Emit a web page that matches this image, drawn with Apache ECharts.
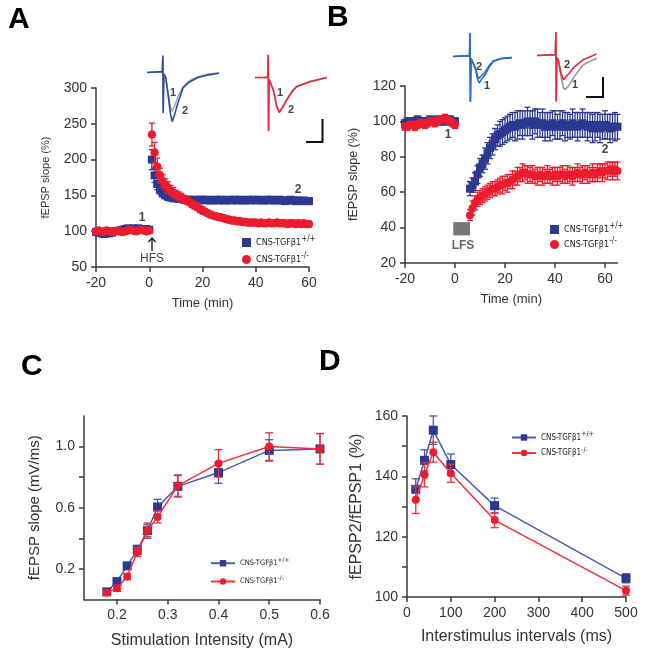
<!DOCTYPE html>
<html lang="en">
<head>
<meta charset="UTF-8">
<title>CNS-TGFb1 synaptic plasticity</title>
<script src="https://cdn.jsdelivr.net/npm/echarts@6.0.0/dist/echarts.min.js"></script>
<style>
  html, body { margin: 0; padding: 0; background: #fff; }
  #main { width: 649px; height: 660px; }
</style>
</head>
<body>
<div id="main"></div>
<script>
// ---------- data ----------
// A: HFS-LTP, time (min) vs fEPSP slope (%)
var tA = [-20,-19,-18,-17,-16,-15,-14,-13,-12,-11,-10,-9,-8,-7,-6,-5,-4,-3,-2,-1,0,
  1,2,3,4,5,6,7,8,9,10, 11,12,13,14,15,16,17,18,19,20, 21,22,23,24,25,26,27,28,29,30,
  31,32,33,34,35,36,37,38,39,40, 41,42,43,44,45,46,47,48,49,50, 51,52,53,54,55,56,57,58,59,60];
var wtA = [99,98,97,96,97,97,98,100,100,101,102,103,104,103,104,103,104,103,102,103,102,
  200,178,166,158,153,150,148,147,146,146, 145,145,144,144,144,143,144,143,144,144,
  143,144,143,143,144,143,144,143,143,144, 143,144,143,144,143,143,144,143,144,143,
  144,143,143,144,143,144,143,143,144,143, 142,143,144,143,142,143,142,143,142,142];
var koA = [100,101,99,100,101,100,99,100,101,100,99,100,101,102,101,100,101,102,101,100,101,
  235,210,190,178,170,165,161,157,154,151, 149,147,145,143,141,138,136,134,131,129,
  127,125,123,122,121,120,119,118,117,116, 115,115,114,114,113,113,112,112,112,112,
  111,112,111,111,112,111,111,112,111,111, 111,110,111,111,110,111,110,111,110,110];
var wtAerr = [2,2,2,2,2,2,2,2,2,2,2,2,2,2,2,2,2,2,2,2,2,
  14,10,8,6,5,4,4,4,3,3, 3,3,3,3,3,3,3,3,3,3, 3,3,3,3,3,3,3,3,3,3,
  3,3,3,3,3,3,3,3,3,3, 3,3,3,3,3,3,3,3,3,3, 3,3,3,3,3,3,3,3,3,3];
var koAerr = [2,2,2,2,2,2,2,2,2,2,2,2,2,2,2,2,2,2,2,2,2,
  16,14,12,10,9,8,8,7,7,6, 6,6,5,5,5,5,5,5,5,5, 4,4,4,4,4,4,4,4,4,4,
  4,4,4,4,4,4,4,4,4,4, 4,4,4,4,4,4,4,4,4,4, 4,4,4,4,4,4,4,4,4,4];

// B: LFS-LTD
var tB = [-20,-19,-18,-17,-16,-15,-14,-13,-12,-11,-10,-9,-8,-7,-6,-5,-4,-3,-2,-1,0,
  6,7,8,9,10,11,12,13,14,15, 16,17,18,19,20,21,22,23,24,25, 26,27,28,29,30,31,32,33,34,35,
  36,37,38,39,40,41,42,43,44,45, 46,47,48,49,50,51,52,53,54,55, 56,57,58,59,60,61,62,63,64,65];
var wtB = [99,100,100,99,100,101,100,99,100,100,101,100,100,101,100,101,100,101,101,100,100,
  62,64,66,70,74,76,79,82,85,87, 90,92,93,94,95,96,97,98,97,98, 99,98,99,100,99,98,100,99,98,99,
  97,98,97,99,98,97,98,99,97,98, 97,99,98,97,98,99,98,97,98,96, 97,98,96,97,98,97,96,97,97,97];
var koB = [97,97,98,98,97,98,99,99,98,99,100,100,99,100,101,101,102,101,100,99,98,
  47,51,54,56,57,58,59,60,61,62, 62,63,64,64,65,65,66,67,68,69, 70,71,71,70,70,70,69,69,70,69,
  69,70,69,69,70,69,70,70,69,70, 70,69,70,71,70,70,71,70,70,71, 70,71,72,71,72,72,73,72,73,72];
var wtBerr = [2,2,2,2,2,2,2,2,2,2,2,2,2,2,2,2,2,2,2,2,2,
  4,4,5,5,5,5,6,6,6,6, 6,6,7,7,7,7,7,7,8,8, 7,8,7,8,7,8,7,8,7,8,
  8,7,8,7,8,7,8,7,8,7, 7,8,7,8,7,8,7,8,7,8, 8,7,8,7,8,7,8,7,8,7];
var koBerr = [2,2,2,2,2,2,2,2,2,2,2,2,2,2,2,2,2,2,2,2,2,
  3,4,4,4,4,4,4,4,4,4, 4,4,4,5,4,5,4,5,4,5, 4,5,4,5,4,5,4,5,4,5,
  4,5,4,5,4,5,4,5,4,5, 4,5,4,5,4,5,4,5,4,5, 4,5,4,5,4,5,4,5,4,5];
var lfsBox = [[-0.7, 35.6], [6, 43.1]];

// C: input-output
var xC = [0.18,0.2,0.22,0.24,0.26,0.28,0.32,0.4,0.5,0.6];
var wtC = [0.05,0.117,0.22,0.325,0.45,0.605,0.74,0.83,0.975,0.985];
var koC = [0.045,0.073,0.15,0.31,0.45,0.54,0.745,0.89,1.0,0.985];
var wtCerr = [0.015,0.02,0.02,0.03,0.04,0.05,0.07,0.07,0.07,0.1];
var koCerr = [0.015,0.02,0.02,0.03,0.05,0.04,0.07,0.09,0.09,0.1];

// D: paired-pulse facilitation
var xD = [20,40,60,100,200,500];
var wtD = [135.7,145.3,155.3,143.9,130.3,106.2];
var koD = [132.2,140.5,148,141,125.5,102.1];
var wtDerr = [3.5,3.5,4.7,3.5,2.5,1.5];
var koDerr = [4.5,4.0,3.3,3.0,2.5,1.5];

// example traces (ms, mV)
var trAx_wt = [0,5.1,5.3,5.4,5.6,6.2,7.0,7.8,8.4,9.2,10.3,12,14,17,20,24];
var trAy_wt2 = [0,0.02,0.43,-1.04,-0.04,-0.12,-0.55,-1.05,-1.26,-1.08,-0.78,-0.4,-0.25,-0.13,-0.07,-0.02];
var trAy_wt1 = [0,0.02,0.43,-1.0,-0.04,-0.12,-0.5,-0.88,-1.0,-0.86,-0.62,-0.36,-0.22,-0.11,-0.05,-0.01];
var trAx_ko = [0,4.2,4.4,4.5,4.7,5.3,6.2,7.2,8.1,9,10.6,12.5,13.9,18.3,24];
var trAy_ko2 = [0,0,0.58,-1.375,-0.05,-0.1,-0.35,-0.75,-0.9,-0.8,-0.58,-0.35,-0.24,-0.11,0.0];
var trAy_ko1 = [0,0,0.58,-1.375,-0.05,-0.1,-0.33,-0.7,-0.86,-0.77,-0.55,-0.33,-0.22,-0.1,0.0];
var trBx_wt = [0,5.5,5.67,5.8,6.0,6.6,7.4,8.2,8.7,9.4,10.7,12,13.4,16,19.6];
var trBy_wt1 = [0,0.02,0.6,-1.16,-0.05,-0.1,-0.3,-0.58,-0.68,-0.6,-0.47,-0.28,-0.13,-0.06,-0.03];
var trBy_wt2 = [0,0.02,0.6,-1.16,-0.05,-0.1,-0.28,-0.5,-0.56,-0.5,-0.4,-0.24,-0.12,-0.05,-0.03];
var trBx_ko = [0,6.1,6.3,6.4,6.6,7.2,8.0,8.8,9.3,10.8,12.1,15.4,19.9];
var trBy_ko2 = [0,0.02,0.6,-1.18,-0.05,-0.15,-0.45,-0.62,-0.58,-0.45,-0.32,-0.11,0.04];
var trBy_ko1 = [0,0.02,0.6,-1.18,-0.05,-0.15,-0.55,-0.82,-0.88,-0.75,-0.58,-0.24,-0.07];

// ---------- helpers ----------
var FONT = "'Liberation Sans', Arial, Helvetica, sans-serif";
var NARROW = "'Liberation Sans Narrow', 'DejaVu Sans Condensed', 'Liberation Sans', sans-serif";
var BLUE = '#2b3990', RED = '#ec1c2e', BLUE_LINE = '#4a5aae', RED_LINE = '#f0303c';

function pts(xs, ys) {
  return xs.map(function (x, i) { return [x, ys[i]]; });
}

function errSeries(gi, xs, ys, es, color, cap, z) {
  return {
    type: 'custom', xAxisIndex: gi, yAxisIndex: gi, z: z, silent: true, clip: false,
    encode: { x: 0, y: [1, 2] },
    data: xs.map(function (x, i) { return [x, ys[i] - es[i], ys[i] + es[i]]; }),
    renderItem: function (params, api) {
      var lo = api.coord([api.value(0), api.value(1)]);
      var hi = api.coord([api.value(0), api.value(2)]);
      var st = { stroke: color, lineWidth: 1.3 };
      return { type: 'group', children: [
        { type: 'line', shape: { x1: lo[0], y1: lo[1], x2: hi[0], y2: hi[1] }, style: st },
        { type: 'line', shape: { x1: lo[0] - cap, y1: lo[1], x2: lo[0] + cap, y2: lo[1] }, style: st },
        { type: 'line', shape: { x1: hi[0] - cap, y1: hi[1], x2: hi[0] + cap, y2: hi[1] }, style: st }
      ] };
    }
  };
}

function axis(gi, min, max, name, nameSize, nameGap, labelSize, ticks, labels, fmt) {
  var a = {
    type: 'value', gridIndex: gi, min: min, max: max,
    name: name, nameLocation: 'middle', nameGap: nameGap,
    nameTextStyle: { fontFamily: FONT, fontSize: nameSize, color: '#333' },
    axisLine: { show: true, onZero: false, lineStyle: { color: '#3a3a3a', width: 1.5 } },
    axisTick: { show: true, length: 5, customValues: ticks, lineStyle: { color: '#3a3a3a', width: 1.5 } },
    axisLabel: { fontFamily: FONT, fontSize: labelSize, color: '#333', margin: 9, customValues: labels || ticks },
    splitLine: { show: false }
  };
  if (fmt) a.axisLabel.formatter = fmt;
  return a;
}

function hidden(gi, min, max) {
  return { type: 'value', gridIndex: gi, min: min, max: max, show: false };
}

function trace(gi, xs, ys, color) {
  return { type: 'line', xAxisIndex: gi, yAxisIndex: gi, data: pts(xs, ys), symbol: 'none',
    silent: true, clip: false, lineStyle: { color: color, width: 1.6 }, z: 2 };
}

var legendText = { wt: '{t|CNS-TGFβ1}{s|+/+}', ko: '{t|CNS-TGFβ1}{s|-/-}' };
function legend(names, left, top, iw, ih, gap, fs) {
  return {
    data: names, orient: 'vertical', left: left, top: top, itemWidth: iw, itemHeight: ih, itemGap: gap,
    selectedMode: false, padding: 0,
    formatter: function (n) { return legendText[n.slice(0, 2)]; },
    textStyle: { color: '#222', rich: {
      t: { fontFamily: NARROW, fontSize: fs, color: '#222' },
      s: { fontFamily: NARROW, fontSize: fs - 1, color: '#222', padding: [0, 0, fs - 2, 0] }
    } }
  };
}

function txt(x, y, s, font, color) {
  return { type: 'text', x: x, y: y, silent: true,
    style: { text: s, font: font, fill: color || '#444', align: 'center', verticalAlign: 'middle' } };
}

function pline(points, w) {
  return { type: 'polyline', silent: true, shape: { points: points },
    style: { stroke: '#111', lineWidth: w || 2, fill: null } };
}

// ---------- chart ----------
var chart = echarts.init(document.getElementById('main'));

var option = {
  animation: false,
  backgroundColor: '#fff',
  grid: [
    { left: 96, top: 88, width: 213, height: 179 },
    { left: 405, top: 86, width: 212.5, height: 177 },
    { left: 84, top: 416, width: 236, height: 183.5 },
    { left: 407, top: 416, width: 219, height: 181 },
    { left: 147, top: 49, width: 72, height: 82 },
    { left: 255, top: 54, width: 72, height: 82 },
    { left: 453, top: 33, width: 72, height: 82 },
    { left: 537, top: 32, width: 72, height: 82 }
  ],
  xAxis: [
    axis(0, -20, 60, 'Time (min)', 13, 30, 14, [-20, 0, 20, 40, 60]),
    axis(1, -20, 65, 'Time (min)', 13, 30, 14, [-20, 0, 20, 40, 60]),
    axis(2, 0.135, 0.6, 'Stimulation Intensity (mA)', 16, 33, 14, [0.2, 0.3, 0.4, 0.5, 0.6], null,
      function (v) { return v.toFixed(1); }),
    axis(3, 0, 500, 'Interstimulus intervals (ms)', 16, 32, 14, [0, 100, 200, 300, 400, 500]),
    hidden(4, 0, 24), hidden(5, 0, 24), hidden(6, 0, 24), hidden(7, 0, 24)
  ],
  yAxis: [
    axis(0, 50, 300, 'fEPSP slope (%)', 11, 45, 14, [50, 100, 150, 200, 250, 300]),
    axis(1, 20, 120, 'fEPSP slope (%)', 12.5, 45, 14, [20, 40, 60, 80, 100, 120]),
    axis(2, 0, 1.2, 'fEPSP slope (mV/ms)', 15, 42, 14, [0.2, 0.4, 0.6, 0.8, 1.0], [0.2, 0.6, 1.0],
      function (v) { return v.toFixed(1); }),
    axis(3, 100, 160, 'fEPSP2/fEPSP1 (%)', 16, 42, 14, [100, 110, 120, 130, 140, 150, 160], [100, 120, 140, 160]),
    hidden(4, -1.5, 0.6), hidden(5, -1.5, 0.6), hidden(6, -1.5, 0.6), hidden(7, -1.5, 0.6)
  ],
  legend: [
    legend(['wtA', 'koA'], 242, 235, 9, 9, 5, 9),
    legend(['wtB', 'koB'], 550, 222, 9, 9, 3, 9),
    legend(['wtC', 'koC'], 210, 557, 24, 8, 8, 7.5),
    legend(['wtD', 'koD'], 511, 431, 24, 8, 5, 8)
  ],
  series: [
    // A
    errSeries(0, tA, wtA, wtAerr, BLUE, 3, 2),
    { name: 'wtA', type: 'scatter', xAxisIndex: 0, yAxisIndex: 0, data: pts(tA, wtA),
      symbol: 'rect', symbolSize: 8, itemStyle: { color: BLUE, opacity: 1 }, z: 3 },
    errSeries(0, tA, koA, koAerr, RED, 3, 4),
    { name: 'koA', type: 'scatter', xAxisIndex: 0, yAxisIndex: 0, data: pts(tA, koA),
      symbol: 'circle', symbolSize: 8.5, itemStyle: { color: RED, opacity: 1 }, z: 5 },
    // B
    errSeries(1, tB, wtB, wtBerr, BLUE, 3, 2),
    { name: 'wtB', type: 'scatter', xAxisIndex: 1, yAxisIndex: 1, data: pts(tB, wtB),
      symbol: 'rect', symbolSize: 8, itemStyle: { color: BLUE, opacity: 1 }, z: 3,
      markArea: { silent: true, itemStyle: { color: '#777', opacity: 1 },
        data: [[{ xAxis: lfsBox[0][0], yAxis: lfsBox[0][1] }, { xAxis: lfsBox[1][0], yAxis: lfsBox[1][1] }]] } },
    errSeries(1, tB, koB, koBerr, RED, 3, 4),
    { name: 'koB', type: 'scatter', xAxisIndex: 1, yAxisIndex: 1, data: pts(tB, koB),
      symbol: 'circle', symbolSize: 8, itemStyle: { color: RED, opacity: 1 }, z: 5 },
    // C
    errSeries(2, xC, wtC, wtCerr, BLUE_LINE, 4, 2),
    { name: 'wtC', type: 'line', xAxisIndex: 2, yAxisIndex: 2, data: pts(xC, wtC),
      symbol: 'rect', symbolSize: 9, showAllSymbol: true,
      lineStyle: { color: BLUE_LINE, width: 1.5 }, itemStyle: { color: BLUE }, z: 3 },
    errSeries(2, xC, koC, koCerr, RED_LINE, 4, 4),
    { name: 'koC', type: 'line', xAxisIndex: 2, yAxisIndex: 2, data: pts(xC, koC),
      symbol: 'circle', symbolSize: 8, showAllSymbol: true,
      lineStyle: { color: RED_LINE, width: 1.5 }, itemStyle: { color: RED }, z: 5 },
    // D
    errSeries(3, xD, wtD, wtDerr, BLUE_LINE, 4, 2),
    { name: 'wtD', type: 'line', xAxisIndex: 3, yAxisIndex: 3, data: pts(xD, wtD),
      symbol: 'rect', symbolSize: 9, lineStyle: { color: BLUE_LINE, width: 1.5 }, itemStyle: { color: BLUE }, z: 3 },
    errSeries(3, xD, koD, koDerr, RED_LINE, 4, 4),
    { name: 'koD', type: 'line', xAxisIndex: 3, yAxisIndex: 3, data: pts(xD, koD),
      symbol: 'circle', symbolSize: 8, lineStyle: { color: RED_LINE, width: 1.5 }, itemStyle: { color: RED }, z: 5 },
    // example traces
    trace(4, trAx_wt, trAy_wt1, '#a3abbf'),
    trace(4, trAx_wt, trAy_wt2, '#2d4c9c'),
    trace(5, trAx_ko, trAy_ko1, '#b0a8ad'),
    trace(5, trAx_ko, trAy_ko2, '#e8283a'),
    trace(6, trBx_wt, trBy_wt1, '#2a6fbf'),
    trace(6, trBx_wt, trBy_wt2, '#2a6fbf'),
    trace(7, trBx_ko, trBy_ko1, '#9a9a9a'),
    trace(7, trBx_ko, trBy_ko2, '#e8283a')
  ],
  graphic: [
    { type: 'text', x: 8, y: 5, style: { text: 'A', font: 'bold 30px ' + FONT, fill: '#000' } },
    { type: 'text', x: 327, y: 3, style: { text: 'B', font: 'bold 30px ' + FONT, fill: '#000' } },
    { type: 'text', x: 21, y: 352, style: { text: 'C', font: 'bold 30px ' + FONT, fill: '#000' } },
    { type: 'text', x: 319, y: 347, style: { text: 'D', font: 'bold 30px ' + FONT, fill: '#000' } },
    // plot annotations
    txt(142, 218, '1', 'bold 12px ' + FONT),
    txt(298, 190, '2', 'bold 12px ' + FONT),
    txt(448, 135, '1', 'bold 12px ' + FONT),
    txt(605, 150, '2', 'bold 12px ' + FONT),
    txt(152, 259, 'HFS', '12px ' + FONT, '#444'),
    pline([[152, 251], [152, 238]], 1.3),
    pline([[148.5, 242], [152, 238], [155.5, 242]], 1.3),
    txt(463, 246, 'LFS', 'bold 12px ' + FONT, '#666'),
    // trace labels
    txt(173, 93, '1', 'bold 11px ' + FONT),
    txt(185, 111, '2', 'bold 11px ' + FONT),
    txt(280, 93, '1', 'bold 11px ' + FONT),
    txt(291, 110, '2', 'bold 11px ' + FONT),
    txt(479, 67, '2', 'bold 11px ' + FONT),
    txt(487, 86, '1', 'bold 11px ' + FONT),
    txt(567, 65, '2', 'bold 11px ' + FONT),
    txt(575, 85, '1', 'bold 11px ' + FONT),
    // scale bars
    pline([[306, 142], [322.5, 142], [322.5, 119]], 2),
    pline([[586, 97], [603, 97], [603, 77]], 2)
  ]
};

chart.setOption(option);
</script>
</body>
</html>
